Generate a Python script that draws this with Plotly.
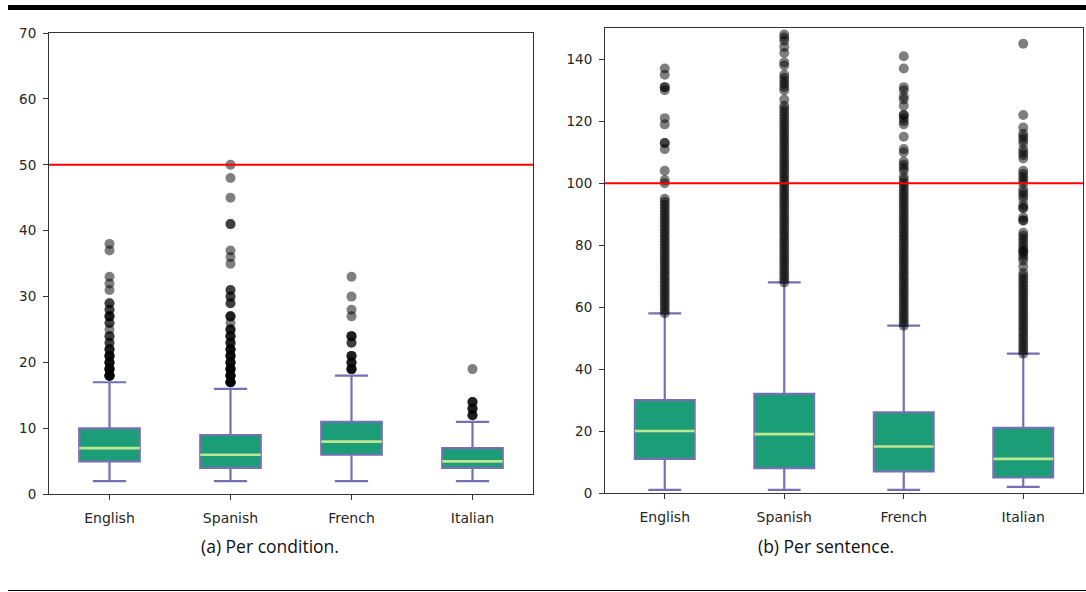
import plotly.graph_objects as go

# ---------------- data ----------------
categories = ["English", "Spanish", "French", "Italian"]
positions = [0, 1, 2, 3]

# (a) Per condition
cond_low = [2, 2, 2, 2]
cond_q1 = [5, 4, 6, 4]
cond_median = [7, 6, 8, 5]
cond_q3 = [10, 9, 11, 7]
cond_high = [17, 16, 18, 11]
cond_out_english = [38, 37, 33, 32, 31, 29, 29, 28, 28, 27, 27, 27, 26, 26, 25, 24, 24,
                    23, 23, 22, 22, 22, 21, 21, 21, 21, 20, 20, 20, 20, 19, 19, 19, 19, 19,
                    18, 18, 18, 18, 18, 18]
cond_out_spanish = [50, 48, 45, 41, 41, 37, 36, 35, 31, 31, 30, 30, 29, 29, 27, 27, 27,
                    26, 25, 25, 25, 24, 24, 24, 23, 23, 23, 22, 22, 22, 22, 21, 21, 21, 21,
                    20, 20, 20, 20, 19, 19, 19, 19, 19, 18, 18, 18, 18, 18, 17, 17, 17, 17, 17, 17]
cond_out_french = [33, 30, 28, 27, 24, 24, 24, 23, 23, 21, 21, 21, 20, 20, 20, 19, 19, 19, 19]
cond_out_italian = [19, 14, 14, 14, 13, 13, 13, 12, 12, 12]
cond_threshold = [50]

# (b) Per sentence
sent_low = [1, 1, 1, 2]
sent_q1 = [11, 8, 7, 5]
sent_median = [20, 19, 15, 11]
sent_q3 = [30, 32, 26, 21]
sent_high = [58, 68, 54, 45]
sent_out_english = [137, 135, 131, 131, 130, 121, 119, 113, 113, 111, 104, 101, 100,
                    95, 94, 93, 92, 91, 90, 89, 88, 87, 86, 85, 84, 83, 82, 81, 80,
                    79, 78, 77, 76, 75, 74, 73, 72, 71, 70, 69, 68, 67, 66, 65, 64, 63,
                    62, 61, 60, 59, 58]
sent_out_spanish = [148, 147, 146, 144, 142, 139, 138, 135, 134, 133, 132, 131, 130, 127,
                    125, 124, 123, 122, 121, 120, 119, 118, 117, 116, 115, 114, 113, 112,
                    111, 110, 109, 108, 107, 106, 105, 104, 103, 102, 101, 100, 99, 98,
                    97, 96, 95, 94, 93, 92, 91, 90, 89, 88, 87, 86, 85, 84, 83, 82, 81,
                    80, 79, 78, 77, 76, 75, 74, 73, 72, 71, 70, 69, 68]
sent_out_french = [141, 137, 131, 130, 128, 127, 125, 122, 122, 121, 120, 119, 115, 111,
                   110, 107, 106, 105, 104, 102, 101, 100, 99, 98, 97, 96, 95, 94, 93,
                   92, 91, 90, 89, 88, 87, 86, 85, 84, 83, 82, 81, 80, 79, 78, 77, 76,
                   75, 74, 73, 72, 71, 70, 69, 68, 67, 66, 65, 64, 63, 62, 61, 60, 59,
                   58, 57, 56, 55, 54]
sent_out_italian = [145, 122, 118, 116, 115, 114, 113, 111, 110, 109, 108, 104, 103, 102,
                    101, 100, 98, 97, 96, 95, 93, 92, 92, 89, 88, 88, 84, 83, 82, 81, 80,
                    79, 78, 78, 77, 76, 75, 73, 71, 70, 69, 68, 67, 66, 65, 64, 63, 62,
                    61, 60, 59, 58, 57, 56, 55, 54, 53, 52, 51, 50, 49, 48, 47, 46, 45]
sent_threshold = [100]

y_ticks_cond = [0, 10, 20, 30, 40, 50, 60, 70]
y_ticks_sent = [0, 20, 40, 60, 80, 100, 120, 140]

captions = ["(a) Per condition.", "(b) Per sentence."]

# ---------------- style ----------------
BOX_FILL = "#1b9e77"
BOX_LINE = "#7570b3"
MEDIAN = "#bde98e"
BOX_W = 0.5
W, H = 1086, 592

fig = go.Figure()


def add_panel(xa, ya, low, q1, med, q3, high, outliers):
    fig.add_trace(go.Box(
        x=positions, q1=q1, median=med, q3=q3, lowerfence=low, upperfence=high,
        width=BOX_W, whiskerwidth=0.55, boxpoints=False,
        fillcolor=BOX_FILL, line=dict(color=BOX_LINE, width=2.2),
        xaxis=xa, yaxis=ya, showlegend=False, hoverinfo="skip"))
    mx, my = [], []
    for p, m in zip(positions, med):
        mx += [p - BOX_W / 2, p + BOX_W / 2, None]
        my += [m, m, None]
    fig.add_trace(go.Scatter(x=mx, y=my, mode="lines", line=dict(color=MEDIAN, width=2.6),
                             xaxis=xa, yaxis=ya, showlegend=False, hoverinfo="skip"))
    ox, oy = [], []
    for p, vals in zip(positions, outliers):
        ox += [p] * len(vals)
        oy += vals
    fig.add_trace(go.Scatter(x=ox, y=oy, mode="markers",
                             marker=dict(size=10, color="rgba(0,0,0,0.5)", line=dict(width=0)),
                             xaxis=xa, yaxis=ya, showlegend=False, hoverinfo="skip"))


add_panel("x", "y", cond_low, cond_q1, cond_median, cond_q3, cond_high,
          [cond_out_english, cond_out_spanish, cond_out_french, cond_out_italian])
add_panel("x2", "y2", sent_low, sent_q1, sent_median, sent_q3, sent_high,
          [sent_out_english, sent_out_spanish, sent_out_french, sent_out_italian])

for thr, xr, yr in [(cond_threshold[0], "x domain", "y"), (sent_threshold[0], "x2 domain", "y2")]:
    fig.add_shape(type="line", xref=xr, yref=yr, x0=0, x1=1, y0=thr, y1=thr,
                  line=dict(color="#ff0000", width=2), layer="above")

tickfont_y = dict(family="DejaVu Sans", size=13.5, color="#262626")
tickfont_x = dict(family="DejaVu Sans", size=14, color="#262626")

common_x = dict(range=[-0.5, 3.5], tickvals=positions, ticktext=categories,
                showgrid=False, zeroline=False, showline=True, linecolor="#333",
                linewidth=1, mirror=True, ticks="outside", ticklen=5, tickcolor="#333",
                tickfont=tickfont_x, ticklabelstandoff=6, automargin=False)
common_y = dict(showgrid=False, zeroline=False, showline=True, linecolor="#333",
                linewidth=1, mirror=True, ticks="outside", ticklen=5, tickcolor="#333",
                tickfont=tickfont_y, ticklabelstandoff=4, automargin=False)

fig.update_layout(
    width=W, height=H, margin=dict(l=0, r=0, t=0, b=0, autoexpand=False),
    paper_bgcolor="white", plot_bgcolor="white",
    xaxis=dict(domain=[49 / W, 533 / W], anchor="y", **common_x),
    yaxis=dict(domain=[(H - 494.3) / H, (H - 33) / H], anchor="x", range=[0, 70],
               tickvals=y_ticks_cond, **common_y),
    xaxis2=dict(domain=[605 / W, 1083 / W], anchor="y2", **common_x),
    yaxis2=dict(domain=[(H - 493) / H, (H - 28.3) / H], anchor="x2", range=[0, 150],
                tickvals=y_ticks_sent, **common_y),
)

# rules
fig.add_shape(type="line", xref="paper", yref="paper", x0=8 / W, x1=1,
              y0=(H - 7.5) / H, y1=(H - 7.5) / H, line=dict(color="black", width=5))
fig.add_shape(type="line", xref="paper", yref="paper", x0=8 / W, x1=1,
              y0=(H - 590.5) / H, y1=(H - 590.5) / H, line=dict(color="black", width=1.2))

for txt, cx in zip(captions, [270, 826]):
    fig.add_annotation(text=txt, xref="paper", yref="paper", x=cx / W, y=(H - 546) / H,
                       showarrow=False, xanchor="center", yanchor="middle",
                       font=dict(family="Open Sans", size=17.5, color="#111"))

fig.write_html("out.html", config={"displayModeBar": False})

# remove default page margins so the figure sits at the window origin
with open("out.html", "r", encoding="utf-8") as f:
    html = f.read()
html = html.replace("<head>", "<head><style>html,body{margin:0;padding:0;overflow:hidden;}</style>", 1)
with open("out.html", "w", encoding="utf-8") as f:
    f.write(html)
